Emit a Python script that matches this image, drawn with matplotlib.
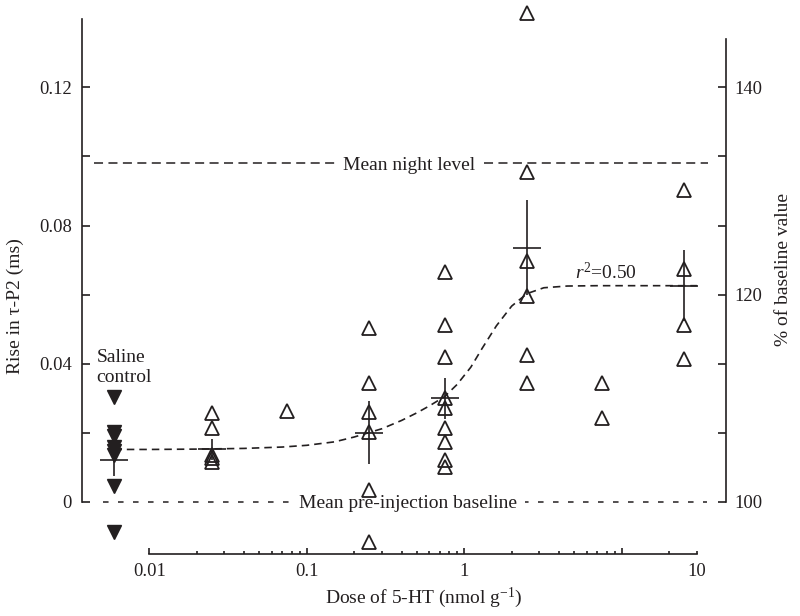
import numpy as np
import matplotlib
matplotlib.use('Agg')
import matplotlib.pyplot as plt

plt.rcParams['font.family'] = ['Liberation Serif', 'DejaVu Serif']
plt.rcParams['mathtext.fontset'] = 'custom'
plt.rcParams['mathtext.rm'] = 'Liberation Serif'
plt.rcParams['mathtext.it'] = 'Liberation Serif:italic'
plt.rcParams['lines.scale_dashes'] = False

ink = '#231f20'

# Saline control injections (drawn left of the dose axis)
saline_dose = 0.006
saline_vals = [0.0304, 0.0202, 0.0190, 0.0160, 0.0148, 0.0136, 0.0046, -0.0087]
saline_mean = 0.0121
saline_sem = 0.0047

# 5-HT doses (nmol/g) and individual rises in tau-P2 (ms)
doses = [0.025, 0.075, 0.25, 0.75, 2.5, 7.5, 25]
responses = [
    [0.0257, 0.0213, 0.0137, 0.0127, 0.0117],
    [0.0263],
    [0.0503, 0.0344, 0.0261, 0.0203, 0.0034, -0.0116],
    [0.0666, 0.0513, 0.0421, 0.0300, 0.0271, 0.0213, 0.0174, 0.0121, 0.0102],
    [0.1415, 0.0955, 0.0697, 0.0595, 0.0426, 0.0344],
    [0.0344, 0.0242],
    [0.0903, 0.0673, 0.0513, 0.0413],
]

# group means +/- s.e.m.
mean_doses = [0.025, 0.25, 0.75, 2.5, 25]
mean_vals = [0.0152, 0.0201, 0.0300, 0.0736, 0.0626]
mean_sem = [0.0030, 0.0090, 0.0060, 0.0138, 0.0103]

# fitted dose-response curve
fit_dose = [0.006, 0.01, 0.02, 0.04, 0.07, 0.1, 0.15, 0.2, 0.3, 0.4, 0.5, 0.6,
            0.75, 0.9, 1.1, 1.3, 1.6, 2.0, 2.5, 3.2, 4.5, 7, 30]
fit_vals = [0.0152, 0.0152, 0.0153, 0.0155, 0.0159, 0.0164, 0.0174, 0.0188,
            0.0212, 0.0236, 0.0258, 0.0278, 0.0305, 0.0340, 0.0390, 0.0445,
            0.0510, 0.0567, 0.0603, 0.0620, 0.0625, 0.0626, 0.0626]

night_level = 0.098
baseline_level = 0.0
baseline_ms = 0.3  # rise of 0.06 ms == 120 % of baseline

left_ticks = [0, 0.02, 0.04, 0.06, 0.08, 0.10, 0.12]
left_labels = ['0', '', '0.04', '', '0.08', '', '0.12']
right_labels = ['100', '', '', '120', '', '', '140']
minor_x = [0.02, 0.03, 0.04, 0.05, 0.06, 0.07, 0.08, 0.09,
           0.2, 0.3, 0.4, 0.5, 0.6, 0.7, 0.8, 0.9,
           2, 3, 4, 5, 6, 7, 8, 9, 20, 30]

fig = plt.figure(figsize=(8, 6.16), dpi=100)
ax = fig.add_axes([0.1021, 0.1002, 0.805, 0.8698])

# reference levels
ax.axhline(night_level, xmin=0.019, xmax=0.9725, color=ink, lw=1.1,
           dashes=(6.5, 3.9), zorder=1)
ax.axhline(baseline_level, xmin=0.033, xmax=0.971, color=ink, lw=1.1,
           dashes=(4, 6.8), zorder=1)
box = dict(boxstyle='square,pad=0.4', fc='white', ec='none')
ax.text(0.508, night_level, 'Mean night level', transform=ax.get_yaxis_transform(),
        ha='center', va='center_baseline', fontsize=14, color=ink, bbox=box, zorder=2)
ax.text(0.5065, baseline_level, 'Mean pre-injection baseline',
        transform=ax.get_yaxis_transform(), ha='center', va='center_baseline',
        fontsize=14, color=ink, bbox=box, zorder=2)

# fitted curve
ax.plot(fit_dose, fit_vals, color=ink, lw=1.2, dashes=(5.4, 3.6), zorder=2)
ax.text(0.766, 0.0664, r'$\mathit{r}^{2}$=0.50', transform=ax.get_yaxis_transform(),
        ha='left', va='center', fontsize=14, color=ink)

# individual animals
xs = [d for d, vals in zip(doses, responses) for v in vals]
ys = [v for vals in responses for v in vals]
ax.plot(xs, ys, ls='none', marker='^', ms=9.5, mfc='none', mec=ink, mew=1.3,
        clip_on=False, zorder=4)
ax.plot([saline_dose] * len(saline_vals), saline_vals, ls='none', marker='v',
        ms=9.5, color=ink, clip_on=False, zorder=4)

# means and error bars
all_mean_x = [saline_dose] + mean_doses
all_mean_y = [saline_mean] + mean_vals
all_sem = [saline_sem] + mean_sem
ax.errorbar(all_mean_x, all_mean_y, yerr=all_sem, fmt='none', ecolor=ink,
            elinewidth=1.2, capsize=0, zorder=3)
ax.plot(all_mean_x, all_mean_y, ls='none', marker='_', ms=20, mew=1.2,
        color=ink, zorder=3)

ax.text(0.0233, 0.039, 'Saline\ncontrol', transform=ax.get_yaxis_transform(),
        ha='left', va='center', fontsize=14, color=ink, linespacing=1.2)

# axes
ax.set_xscale('log')
ax.set_xlim(0.003723, 45.67)
ax.set_ylim(-0.01514, 0.13994)
ax.spines['top'].set_visible(False)
ax.spines['right'].set_visible(False)
for s in ['left', 'bottom']:
    ax.spines[s].set_linewidth(1.2)
    ax.spines[s].set_color(ink)
ax.spines['left'].set_bounds(0, 0.1399)
ax.spines['bottom'].set_bounds(0.01, 30)

ax.set_yticks(left_ticks, left_labels)
ax.tick_params(axis='y', direction='in', length=6, width=1.2, pad=7,
               labelsize=13.3, colors=ink)
ax.set_xticks([0.01, 0.1, 1, 10], ['0.01', '0.1', '1', ''])
ax.set_xticks(minor_x, ['10' if m == 30 else '' for m in minor_x], minor=True)
ax.tick_params(axis='x', which='major', direction='in', length=4.5, width=1.2,
               pad=6, labelsize=13.3, colors=ink)
ax.tick_params(axis='x', which='minor', direction='in', length=2.4, width=1.2,
               pad=6, labelsize=13.3, colors=ink)

ax.set_ylabel('Rise in τ-P2 (ms)', fontsize=14, color=ink, va='center', ha='center')
ax.yaxis.set_label_coords(-0.1036, 0.463)
ax.set_xlabel(r'Dose of 5-HT (nmol g$^{-1}$)', fontsize=14, color=ink, va='center')
ax.xaxis.set_label_coords(0.5315, -0.0816)

# right-hand axis in % of baseline
ax2 = ax.twinx()
lo, hi = ax.get_ylim()
ax2.set_ylim(100 + lo / baseline_ms * 100, 100 + hi / baseline_ms * 100)
for s in ['top', 'left', 'bottom']:
    ax2.spines[s].set_visible(False)
ax2.spines['right'].set_linewidth(1.2)
ax2.spines['right'].set_color(ink)
ax2.spines['right'].set_bounds(100, 100 + 0.134 / baseline_ms * 100)
ax2.set_yticks([100 + t / baseline_ms * 100 for t in left_ticks], right_labels)
ax2.tick_params(axis='y', direction='in', length=6, width=1.2, pad=6,
                labelsize=13.3, colors=ink)
ax2.set_ylabel('% of baseline value', fontsize=14, color=ink, va='center', ha='center')
ax2.yaxis.set_label_coords(1.0894, 0.532)

fig.savefig('out.png', dpi=100)
